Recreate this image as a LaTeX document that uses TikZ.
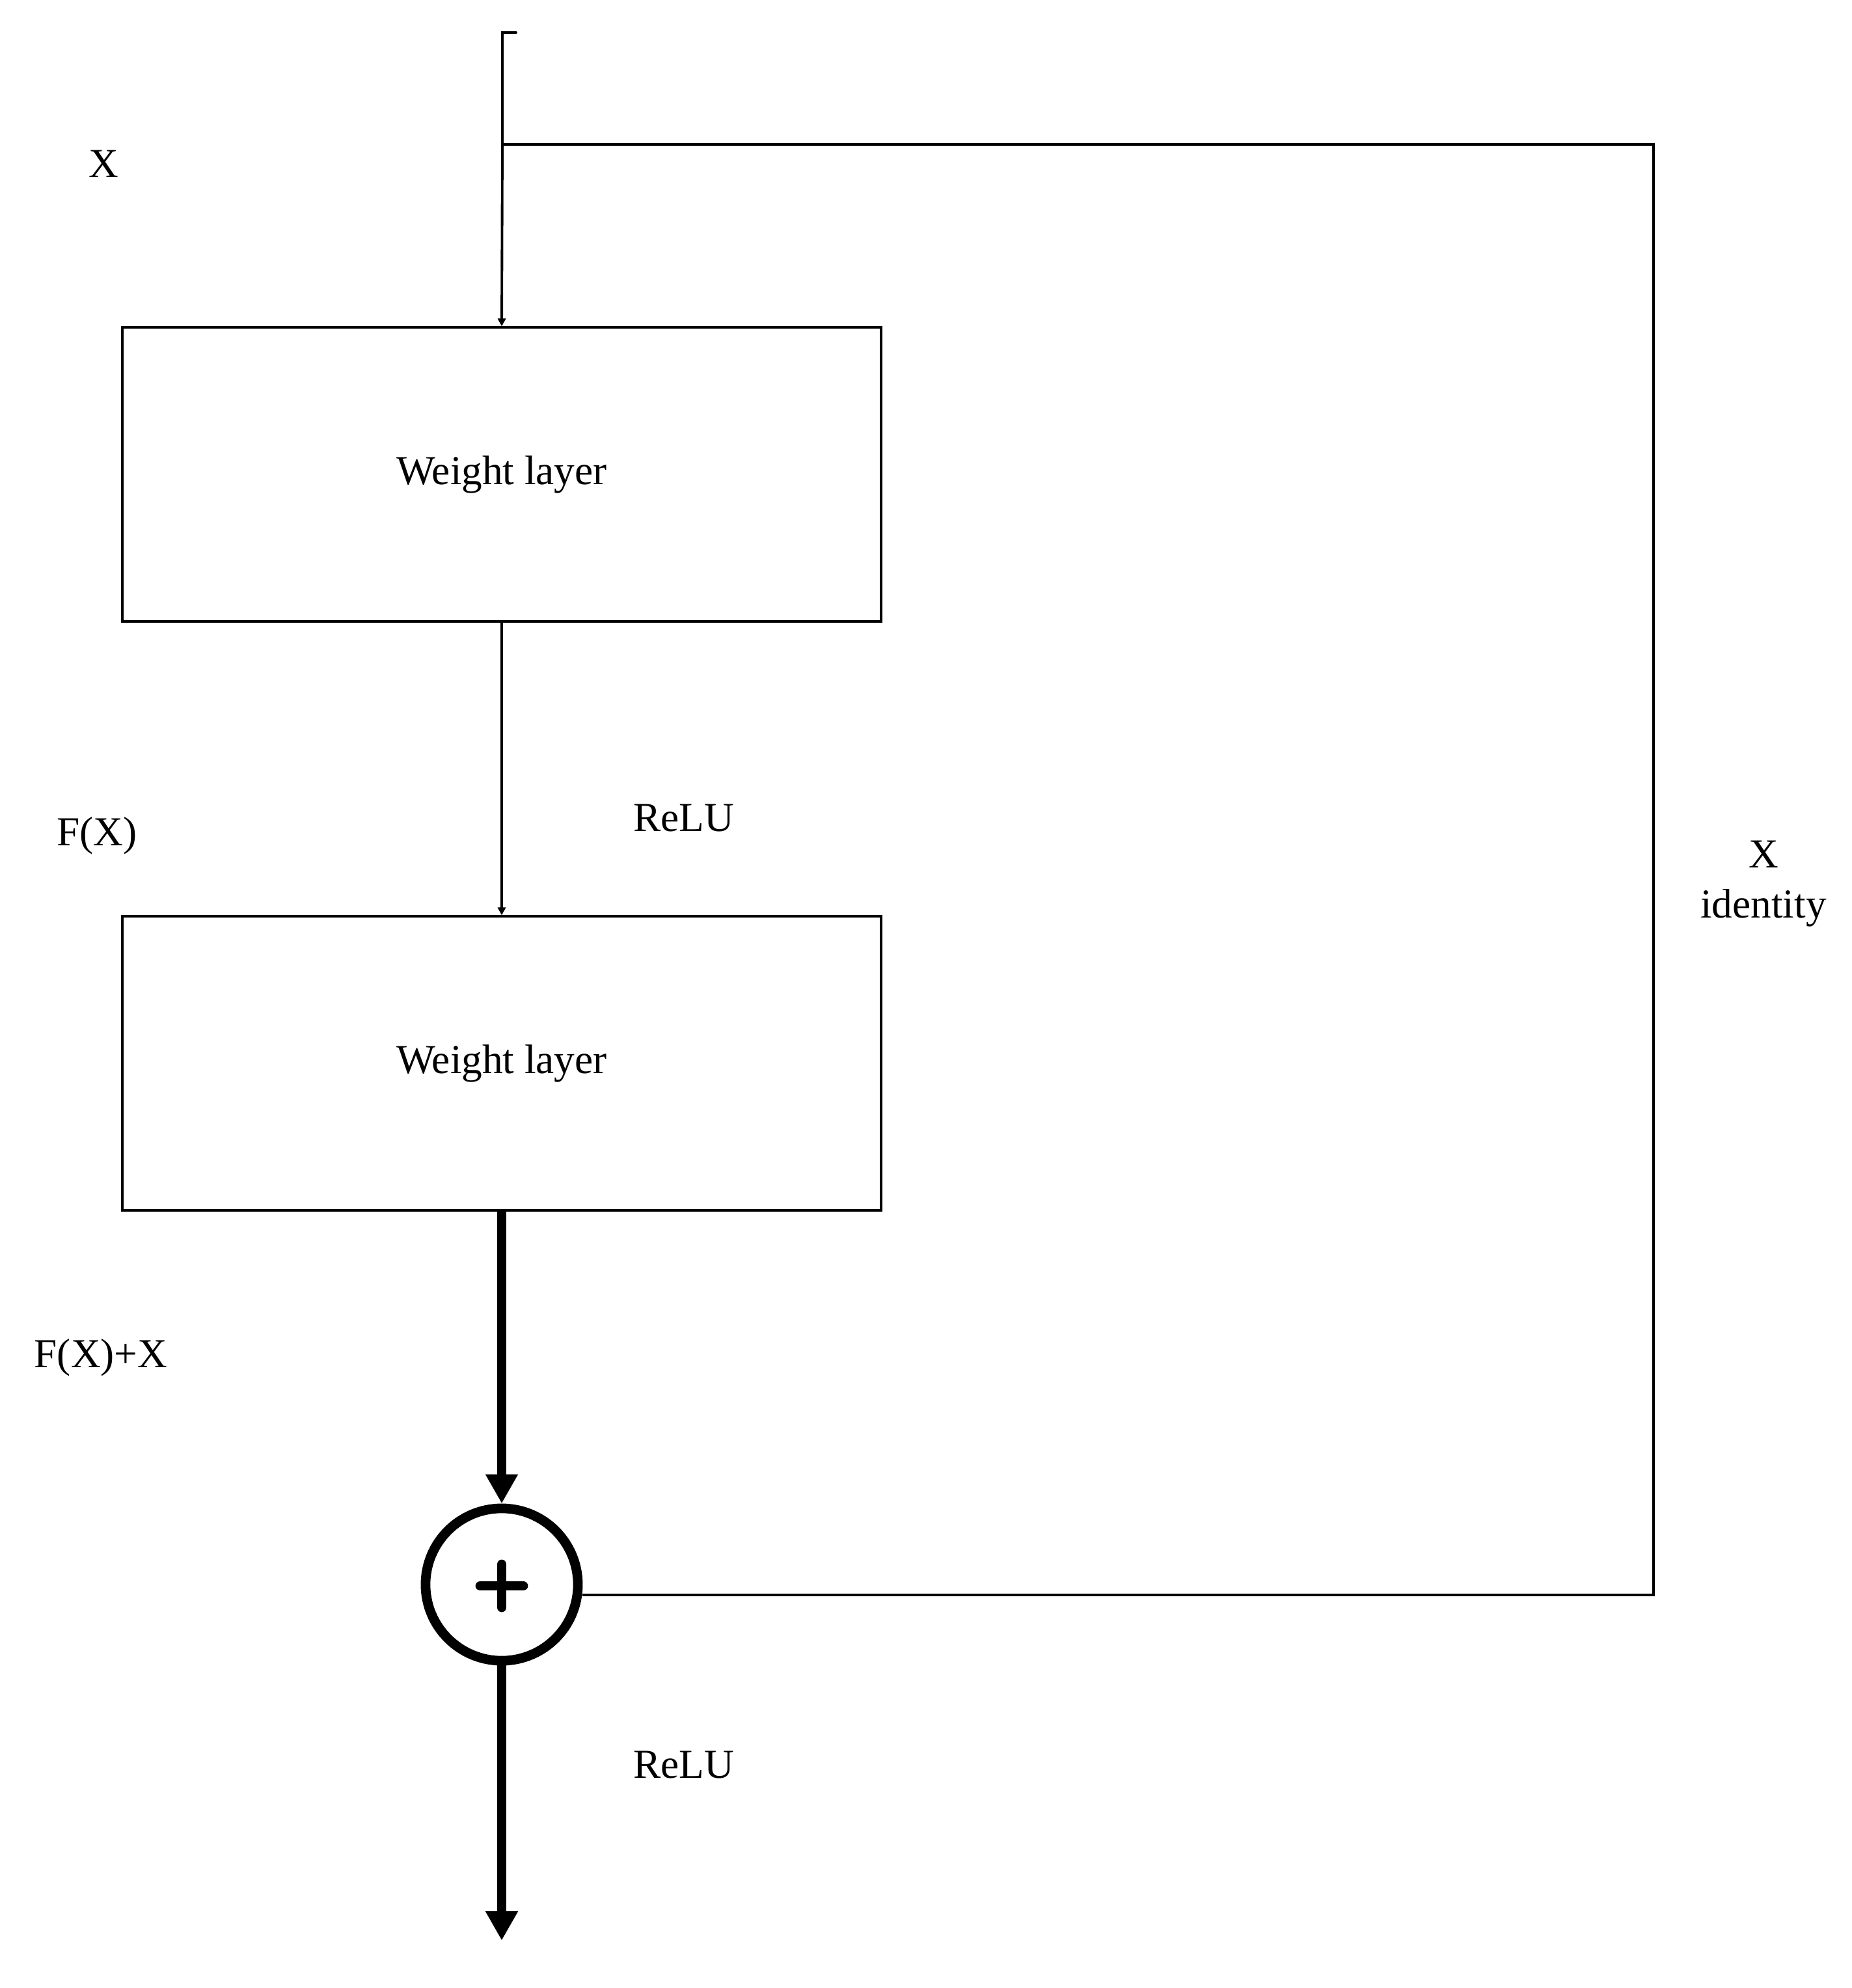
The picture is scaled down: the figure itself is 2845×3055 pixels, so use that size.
\documentclass[tikz,border=0pt]{standalone}
\usepackage{fontspec}
\setmainfont{Liberation Serif}
\usetikzlibrary{arrows.meta}
\begin{document}
\begin{tikzpicture}[x=0.01cm,y=-0.01cm,
  thin line/.style={line width=1.1pt},
  thick line/.style={line width=4.2pt},
  box/.style={draw,line width=1.1pt,minimum width=11.66cm,minimum height=4.51cm,inner sep=0pt},
  lbl/.style={font=\fontsize{18}{22}\selectfont,inner sep=0pt,align=center}]
\useasboundingbox (0,0) rectangle (2845,3055);
% input
\coordinate (top) at (772,50);
\coordinate (tick) at (793,50);
\coordinate (split) at (772,222);
\coordinate (corner1) at (2541,222);
\node[box] (w1) at (771,729) {};
\node[lbl] at (w1) {Weight layer};
\node[box] (w2) at (771,1634) {};
\node[lbl] at (w2) {Weight layer};
\node[circle,draw,line width=4.2pt,minimum size=2.34cm,inner sep=0pt] (sum) at (771,2435) {};
\draw[line width=4.2pt,line cap=round] (738,2437) -- (804,2437) (771,2404) -- (771,2470);
\coordinate (corner2) at (2541,2451);
\coordinate (out) at (771,2982);
% connectors
\draw[thin line,line cap=round] (tick) -- (top) -- (split);
\draw[thin line,-{Triangle[width=0.12cm,length=0.12cm]}] (split) -- (w1.north);
\draw[thin line,-{Triangle[width=0.12cm,length=0.12cm]}] (w1.south) -- (w2.north);
\draw[thick line,-{Triangle[width=0.47cm,length=0.45cm]}] (w2.south) -- (sum.north);
\draw[thick line,-{Triangle[width=0.47cm,length=0.45cm]}] (sum.south) -- (out);
\draw[thin line] (split) -- (corner1) -- (corner2) -- (sum.east |- corner2);
% labels
\node[lbl] at (159,252) {X};
\node[lbl] at (149,1284) {F(X)};
\node[lbl] at (155,2086) {F(X)+X};
\node[lbl] at (1051,1257) {ReLU};
\node[lbl] at (1051,2712) {ReLU};
\node[lbl] at (2710,1358) {X\\identity};
\end{tikzpicture}
\end{document}
